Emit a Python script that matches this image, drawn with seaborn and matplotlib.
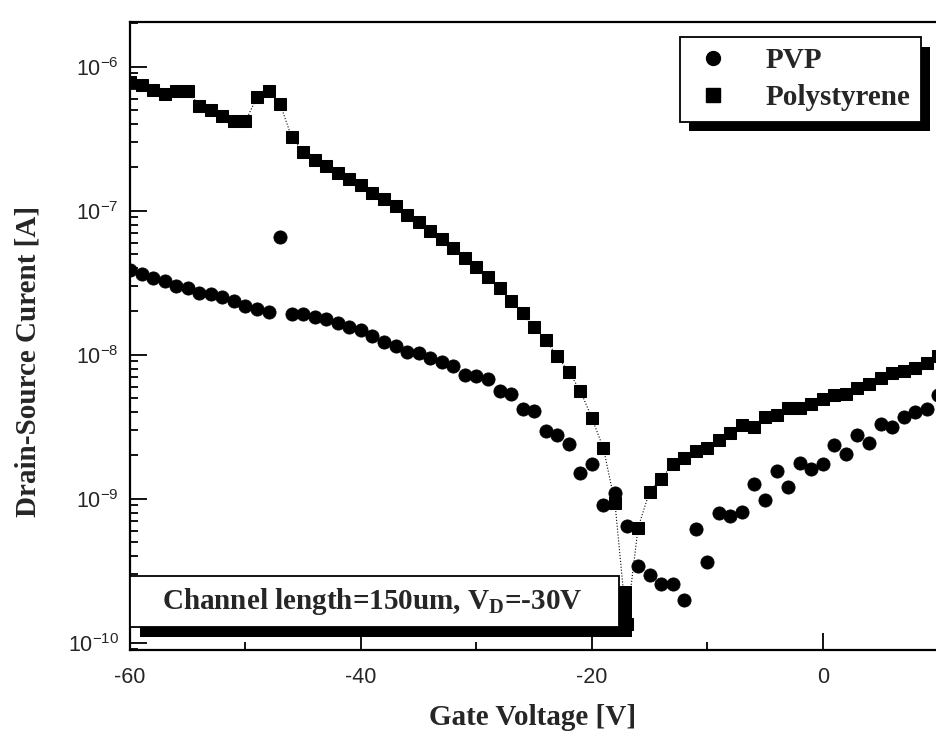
import matplotlib
matplotlib.use("Agg")
import matplotlib.pyplot as plt
import matplotlib.patheffects as pe
from matplotlib.patches import Rectangle
from matplotlib.lines import Line2D
from matplotlib.ticker import LogLocator, MultipleLocator, LogFormatterSciNotation, NullFormatter
import seaborn as sns
import numpy as np
import pandas as pd

# gate voltage sweep [V]
gate_voltage = list(range(-60, 11))

# log10 of drain-source current [A]
pvp_log = [-7.41, -7.44, -7.47, -7.49, -7.52, -7.54, -7.57, -7.58, -7.60, -7.63,
           -7.66, -7.68, -7.70, -7.18, -7.72, -7.72, -7.74, -7.75, -7.78, -7.81,
           -7.83, -7.87, -7.91, -7.94, -7.98, -7.99, -8.02, -8.05, -8.08, -8.14,
           -8.15, -8.17, -8.25, -8.27, -8.38, -8.39, -8.53, -8.56, -8.62, -8.82,
           -8.76, -9.04, -8.96, -9.19, -9.47, -9.53, -9.59, -9.59, -9.70, -9.21,
           -9.44, -9.10, -9.12, -9.09, -8.90, -9.01, -8.81, -8.92, -8.75, -8.79,
           -8.76, -8.63, -8.69, -8.56, -8.61, -8.48, -8.50, -8.43, -8.40, -8.38,
           -8.28]
ps_log = [-6.11, -6.13, -6.16, -6.19, -6.17, -6.17, -6.27, -6.30, -6.34, -6.38,
          -6.38, -6.21, -6.17, -6.26, -6.49, -6.59, -6.65, -6.69, -6.74, -6.78,
          -6.82, -6.88, -6.92, -6.97, -7.03, -7.08, -7.14, -7.20, -7.26, -7.33,
          -7.39, -7.46, -7.54, -7.63, -7.71, -7.81, -7.90, -8.01, -8.12, -8.25,
          -8.44, -8.65, -9.03, -9.87, -9.20, -8.95, -8.86, -8.76, -8.72, -8.67,
          -8.65, -8.59, -8.54, -8.49, -8.50, -8.43, -8.42, -8.37, -8.37, -8.34,
          -8.31, -8.28, -8.27, -8.23, -8.20, -8.16, -8.13, -8.11, -8.09, -8.06,
          -8.01]

pvp = pd.DataFrame({"Vg": gate_voltage, "Ids": 10 ** np.array(pvp_log)})
ps = pd.DataFrame({"Vg": gate_voltage, "Ids": 10 ** np.array(ps_log)})

sns.set_style("ticks")
plt.rcParams["axes.unicode_minus"] = False
serif = "Liberation Serif"
sans = "Liberation Sans"

fig = plt.figure(figsize=(9.36, 7.36), dpi=100)
ax = fig.add_axes([130 / 936, 86 / 736, 806 / 936, 628 / 736])

sns.lineplot(data=ps, x="Vg", y="Ids", ax=ax, color="black", marker="s",
             markersize=9.2, markeredgecolor="black", linestyle=":",
             linewidth=0.8, estimator=None, legend=False, zorder=3)
sns.scatterplot(data=pvp, x="Vg", y="Ids", ax=ax, color="black", marker="o",
                s=90, edgecolor="black", linewidth=0.6, legend=False, zorder=3)

ax.set_yscale("log")
ax.set_xlim(-60, 9.8)
ax.set_ylim(10 ** -10.05, 10 ** -5.69)

ax.xaxis.set_major_locator(MultipleLocator(20))
ax.xaxis.set_minor_locator(MultipleLocator(10))
ax.xaxis.set_minor_formatter(NullFormatter())
ax.yaxis.set_major_locator(LogLocator(base=10, numticks=10))
ax.yaxis.set_minor_locator(LogLocator(base=10, subs=np.arange(2, 10), numticks=20))
ax.yaxis.set_major_formatter(LogFormatterSciNotation())
ax.yaxis.set_minor_formatter(NullFormatter())

ax.tick_params(which="both", direction="in", color="black", width=1.3,
               top=False, right=False)
ax.tick_params(which="major", length=12, labelsize=15.5)
ax.tick_params(axis="x", which="major", pad=12)
ax.tick_params(axis="y", which="major", pad=8)
ax.tick_params(which="minor", length=6, labelbottom=False, labelleft=False)
for lab in ax.get_xticklabels() + ax.get_yticklabels():
    lab.set_family(sans)

for side in ["left", "bottom", "top"]:
    ax.spines[side].set_color("black")
    ax.spines[side].set_linewidth(1.6)
ax.spines["right"].set_visible(False)

ax.set_xlabel("Gate Voltage [V]", family=serif, weight="bold", fontsize=21, labelpad=12)
ax.set_ylabel("Drain-Source Curent [A]", family=serif, weight="bold", fontsize=21)
ax.yaxis.set_label_coords(-0.11, 0.46)

# legend with hard black shadow
handles = [
    Line2D([], [], color="black", marker="o", linestyle="none", markersize=10),
    Line2D([], [], color="black", marker="s", linestyle="none", markersize=10),
]
leg = ax.legend(handles, ["PVP", "Polystyrene"], loc="upper right",
                bbox_to_anchor=(0.981, 0.976), borderaxespad=0, fancybox=False,
                frameon=True, edgecolor="black", framealpha=1, handlelength=1.6,
                handletextpad=1.0, borderpad=0.35, labelspacing=0.35,
                prop={"family": serif, "weight": "bold", "size": 21})
leg.get_frame().set_linewidth(1.3)
leg.get_frame().set_path_effects([
    pe.SimplePatchShadow(offset=(7, -7), shadow_rgbFace="black", alpha=1),
    pe.Normal()])

# annotation box with shadow
shadow = Rectangle((0.012, 0.021), 0.611, 0.081, transform=ax.transAxes,
                   facecolor="black", edgecolor="none", zorder=5, clip_on=False)
box = Rectangle((0.0, 0.037), 0.607, 0.081, transform=ax.transAxes,
                facecolor="white", edgecolor="black", linewidth=1.3, zorder=6,
                clip_on=False)
ax.add_patch(shadow)
ax.add_patch(box)
ax.text(0.30, 0.078, r"Channel length=150um, V$_{\mathdefault{D}}$=-30V",
        transform=ax.transAxes, ha="center", va="center", zorder=7,
        family=serif, weight="bold", fontsize=21)

fig.savefig("out.png", dpi=100, facecolor="white")
